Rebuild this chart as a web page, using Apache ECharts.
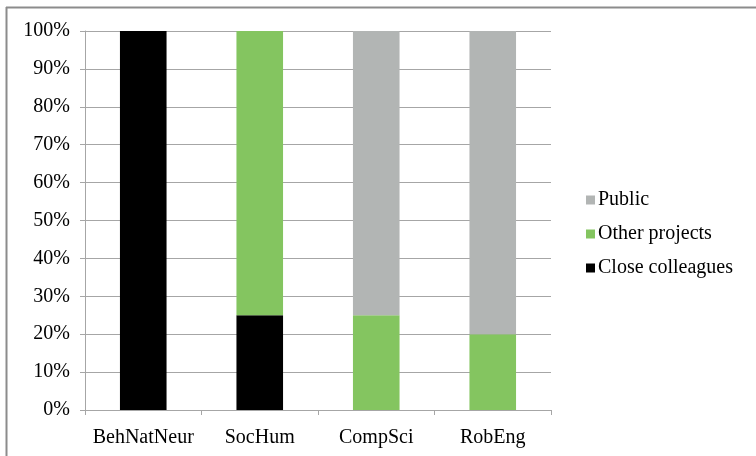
<!DOCTYPE html>
<html>
<head>
<meta charset="utf-8">
<script src="https://cdn.jsdelivr.net/npm/echarts@6/dist/echarts.min.js"></script>
<style>
  html, body { margin: 0; padding: 0; background: #ffffff; }
  #chart { width: 756px; height: 456px; }
</style>
</head>
<body>
<div id="chart"></div>
<script>
// Share of each audience per research field (percent, stacked to 100)
const categories = ['BehNatNeur', 'SocHum', 'CompSci', 'RobEng'];
const closeColleagues = [100, 25, 0, 0];
const otherProjects = [0, 75, 25, 20];
const publicShare = [0, 0, 75, 80];
const legendOrder = ['Public', 'Other projects', 'Close colleagues'];

const FONT = '"Liberation Serif", "Times New Roman", serif';
const GRID_COLOR = '#a6a6a6';

const chart = echarts.init(document.getElementById('chart'), null, { renderer: 'canvas' });

function barSeries(name, data, color) {
  return {
    name: name,
    type: 'bar',
    stack: 'total',
    barWidth: '40%',
    data: data,
    itemStyle: { color: color },
    emphasis: { disabled: true }
  };
}

chart.setOption({
  animation: false,
  backgroundColor: '#ffffff',
  textStyle: { fontFamily: FONT },
  grid: { left: 85, right: 205, top: 31, bottom: 46, containLabel: false },
  legend: {
    orient: 'vertical',
    left: 581,
    top: 185,
    itemWidth: 9,
    itemHeight: 9,
    itemGap: 14,
    icon: 'rect',
    data: legendOrder,
    textStyle: { fontFamily: FONT, fontSize: 20, color: '#000000', padding: [0, 0, 0, -2] }
  },
  xAxis: {
    type: 'category',
    data: categories,
    axisLine: { lineStyle: { color: GRID_COLOR, width: 1 } },
    axisTick: { show: true, interval: 0, length: 5, alignWithLabel: false, lineStyle: { color: GRID_COLOR } },
    axisLabel: { interval: 0, fontFamily: FONT, fontSize: 20, color: '#000000', margin: 18 },
    splitLine: { show: false }
  },
  yAxis: {
    type: 'value',
    min: 0,
    max: 100,
    interval: 10,
    axisLine: { show: true, lineStyle: { color: GRID_COLOR, width: 1 } },
    axisTick: { show: true, length: 5, lineStyle: { color: GRID_COLOR } },
    axisLabel: { fontFamily: FONT, fontSize: 20, color: '#000000', margin: 15, formatter: '{value}%' },
    splitLine: { show: true, lineStyle: { color: GRID_COLOR, width: 1 } }
  },
  series: [
    barSeries('Close colleagues', closeColleagues, '#000000'),
    barSeries('Other projects', otherProjects, '#84c560'),
    barSeries('Public', publicShare, '#b2b5b4')
  ],
  graphic: [
    { type: 'line', shape: { x1: 6, y1: 7.5, x2: 756, y2: 7.5 }, style: { stroke: '#8c8c8c', lineWidth: 2 }, silent: true },
    { type: 'line', shape: { x1: 6.5, y1: 7, x2: 6.5, y2: 456 }, style: { stroke: '#8c8c8c', lineWidth: 2 }, silent: true }
  ]
});
</script>
</body>
</html>
